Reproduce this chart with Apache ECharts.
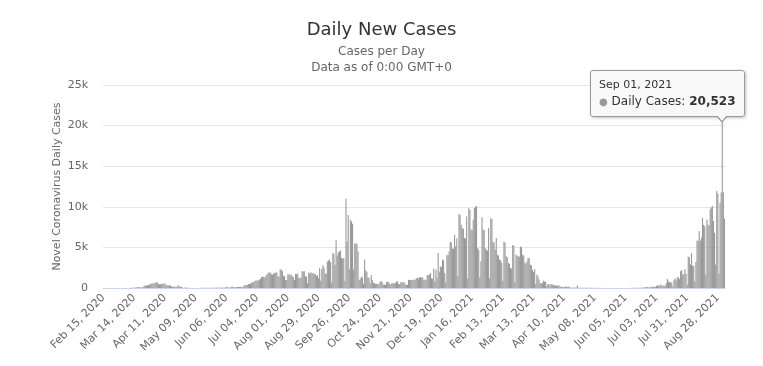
<!DOCTYPE html>
<html>
<head>
<meta charset="utf-8">
<script src="https://cdn.jsdelivr.net/npm/echarts@6/dist/echarts.min.js"></script>
<style>
html,body{margin:0;padding:0;background:#fff;}
#chart{width:763px;height:366px;}
</style>
</head>
<body>
<div id="chart"></div>
<script>
// Daily new cases, Feb 15 2020 .. Dec 31 2020
const cases2020 = [
0,0,0,0,0,0,1,0,0,0,
0,0,1,0,2,1,3,2,2,4,
5,4,6,11,8,20,16,30,50,40,
60,85,130,70,60,80,90,280,320,300,
350,380,400,520,560,540,580,650,700,680,
480,450,500,420,550,520,560,330,340,300,
320,310,180,150,160,140,150,140,380,160,
150,140,40,30,50,20,30,25,15,20,
10,12,8,15,10,6,14,9,12,20,
18,10,25,16,22,30,15,28,35,20,
40,30,25,45,35,20,50,40,55,30,
60,45,160,60,50,70,80,150,140,90,
100,80,130,140,120,150,100,110,300,350,
380,370,480,520,500,680,720,700,880,900,
950,900,1050,1100,1350,1400,1380,1300,1500,1650,
1900,1850,1950,1700,1650,1750,1900,1850,1950,1450,
1400,2300,2250,2100,1500,1450,1000,1000,1700,1650,
1600,1650,1450,1400,1000,1750,1700,1800,1250,1200,
1300,2100,2000,2050,1450,1400,600,1900,1800,1950,
1800,1850,1700,1750,1500,1550,1200,2450,900,2300,
2800,2500,1800,1750,3260,3400,3500,3200,700,4300,
4200,2850,5900,4000,4400,4500,4600,3700,3600,3700,
900,11000,5700,9000,2300,8400,8200,7900,2250,5500,
5400,5500,4500,1000,1100,1400,1300,500,3500,2200,
2000,1300,1250,600,1600,1000,650,600,500,520,
480,450,800,820,780,400,420,380,750,760,
720,500,480,600,620,580,600,800,820,500,
480,700,720,680,700,400,420,380,1000,980,
1020,950,1000,1050,980,1200,1250,1180,1300,1350,
1250,1300,1000,1050,950,1600,1550,1650,1850,1200,
1150,2400,800,2250,1300,4300,2000,2650,2600,3500,
3400,1850,700,4100,4000,4500,5700,5600,4900,4800,
6550
];
// Daily new cases, Jan 01 2021 .. Sep 03 2021
const cases2021 = [
5100,6100,1500,9100,9000,7800,7400,7300,6150,
6100,8800,1200,9850,9600,7200,7100,8400,9850,10000,
10100,4900,4700,1300,3300,8700,7200,7100,4900,4700,
4600,7400,1200,8600,8500,5700,5600,4700,6150,4100,
4000,3500,3400,3100,900,5700,5600,3900,3800,3100,
3000,2450,2400,5300,5200,700,4100,4000,3900,3850,
5100,5000,4100,4000,3100,3000,3300,3700,3650,2850,
2800,2250,1950,2300,500,1650,1450,1050,600,620,
580,900,800,750,200,500,480,300,500,420,
400,300,310,300,290,370,200,190,120,130,
110,120,200,80,200,50,55,45,50,40,
50,45,330,40,35,30,40,25,30,20,
35,25,20,30,15,25,20,10,15,20,
12,18,10,15,8,12,10,6,14,9,
10,12,8,5,10,14,8,6,10,12,
8,5,10,12,6,9,10,15,8,12,
20,14,10,25,18,30,12,35,40,25,
45,60,30,50,70,120,80,60,90,150,
140,160,150,130,290,280,370,200,450,290,
300,280,290,600,1100,820,700,720,680,200,
1000,1200,950,1300,1350,1100,2050,2200,1650,1700,
2350,1750,400,3850,3800,2900,4300,2750,2700,800,
3200,5850,5800,7000,5850,6200,8650,7800,7600,1650,
8450,7800,7700,9700,9900,10100,8250,6800,2900,11950,
11600,1800,10500,11750,20523,11800,8550
];
const seriesName = 'Daily Cases';
const yTicks = [0, 5000, 10000, 15000, 20000, 25000];
const highlightDate = 'Sep 01, 2021';

const cases = cases2020.concat(cases2021);
const monthNames = ['Jan','Feb','Mar','Apr','May','Jun','Jul','Aug','Sep','Oct','Nov','Dec'];
const startMs = Date.UTC(2020, 1, 15);
const categories = [];
for (let i = 0; i < cases.length; i++) {
  const d = new Date(startMs + i * 86400000);
  categories.push(monthNames[d.getUTCMonth()] + ' ' + String(d.getUTCDate()).padStart(2, '0') + ', ' + d.getUTCFullYear());
}
const hiIdx = categories.indexOf(highlightDate);

const chart = echarts.init(document.getElementById('chart'), null, {renderer: 'canvas'});
const FONT = '"DejaVu Sans", sans-serif';
chart.setOption({
  animation: false,
  backgroundColor: '#fff',
  textStyle: {fontFamily: FONT},
  title: {
    text: 'Daily New Cases',
    subtext: 'Cases per Day\nData as of 0:00 GMT+0',
    left: 'center',
    top: 16,
    itemGap: 5,
    textStyle: {fontFamily: FONT, fontSize: 18, fontWeight: 'normal', color: '#333333'},
    subtextStyle: {fontFamily: FONT, fontSize: 12, color: '#666666', lineHeight: 16}
  },
  grid: {left: 103, right: 38, top: 85, bottom: 78, containLabel: false},
  tooltip: {
    trigger: 'item',
    alwaysShowContent: true,
    transitionDuration: 0,
    padding: [7, 8, 6, 8],
    backgroundColor: 'rgba(248,248,248,0.97)',
    borderColor: '#999999',
    borderWidth: 1,
    extraCssText: 'border-radius:3px;box-shadow:1px 1px 3px rgba(0,0,0,0.25);overflow:visible;',
    textStyle: {fontFamily: FONT, color: '#333333'},
    position: function (point, params, dom, rect, size) {
      const p = chart.convertToPixel({seriesIndex: 0}, [params.dataIndex, params.value]);
      return [p[0] - 132, p[1] - 51];
    },
    formatter: function (p) {
      return '<div style="position:relative;line-height:1.3">' +
        '<div style="font-size:11px;">' + p.name + '</div>' +
        '<div style="font-size:12px;margin-top:2px;"><span style="color:#999;font-size:10px;">\u25CF</span> ' + p.seriesName + ': <b>' + p.value.toLocaleString('en-US') + '</b></div>' +
        '</div>' +
        '<div style="position:absolute;left:125px;bottom:-7px;width:0;height:0;border-left:6px solid transparent;border-right:6px solid transparent;border-top:7px solid #999;"></div>' +
        '<div style="position:absolute;left:126px;bottom:-5px;width:0;height:0;border-left:5px solid transparent;border-right:5px solid transparent;border-top:6px solid #f8f8f8;"></div>';
    }
  },
  xAxis: {
    type: 'category',
    data: categories,
    boundaryGap: true,
    axisLine: {lineStyle: {color: '#ccd6eb'}},
    axisTick: {show: false},
    axisLabel: {
      interval: 27,
      rotate: 45,
      fontSize: 11,
      color: '#666666',
      fontFamily: FONT,
      margin: 8
    }
  },
  yAxis: {
    type: 'value',
    min: yTicks[0],
    max: yTicks[yTicks.length - 1],
    interval: yTicks[1] - yTicks[0],
    name: 'Novel Coronavirus Daily Cases',
    nameLocation: 'middle',
    nameGap: 40,
    nameMoveOverlap: false,
    nameTextStyle: {fontSize: 11, color: '#666666', fontFamily: FONT},
    axisLine: {show: false},
    axisTick: {show: false},
    splitLine: {lineStyle: {color: '#e6e6e6'}},
    axisLabel: {
      fontSize: 11,
      color: '#666666',
      fontFamily: FONT,
      margin: 15,
      formatter: function (v) { return v === 0 ? '0' : (v / 1000) + 'k'; }
    }
  },
  series: [{
    name: seriesName,
    type: 'bar',
    data: cases,
    barCategoryGap: '0%',
    itemStyle: {color: '#999999'},
    emphasis: {disabled: true}
  }]
});
chart.dispatchAction({type: 'showTip', seriesIndex: 0, dataIndex: hiIdx});
</script>
</body>
</html>
